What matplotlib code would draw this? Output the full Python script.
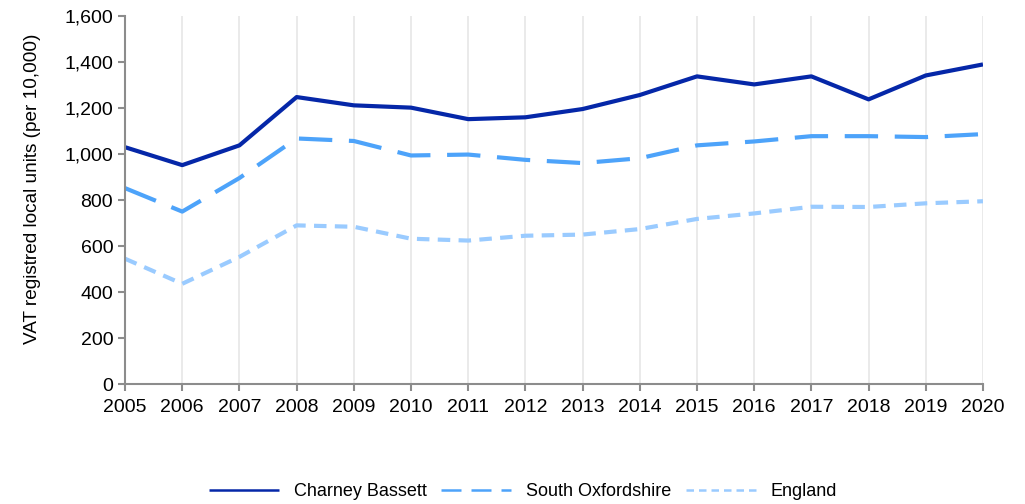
import numpy as np
import matplotlib.pyplot as plt
from matplotlib.ticker import FuncFormatter

# VAT registered local units per 10,000, 2005-2020
years = list(range(2005, 2021))
charney_bassett = [1030, 952, 1038, 1248, 1212, 1202, 1152, 1160, 1196, 1257, 1338, 1303, 1338, 1238, 1342, 1390]
south_oxfordshire = [852, 750, 896, 1068, 1057, 994, 998, 975, 961, 982, 1038, 1055, 1078, 1078, 1074, 1087]
england = [545, 436, 553, 690, 684, 632, 624, 645, 650, 674, 718, 742, 771, 770, 786, 795]

series_names = ["Charney Bassett", "South Oxfordshire", "England"]

plt.rcParams['font.family'] = ['Liberation Sans', 'DejaVu Sans']

fig = plt.figure(figsize=(10.25, 5.04), dpi=100)
ax = fig.add_axes([0.122, 0.238, 0.837, 0.730])

ax.plot(years, charney_bassett, color='#0527a8', lw=3, solid_capstyle='butt',
        label=series_names[0])
ax.plot(years, south_oxfordshire, color='#4da3fa', lw=3, dashes=(8, 4),
        label=series_names[1])
ax.plot(years, england, color='#9acbff', lw=3, dashes=(3, 2),
        label=series_names[2])

ax.set_xlim(2005, 2020)
ax.set_ylim(0, 1600)
ax.set_xticks(years)
ax.set_yticks(np.arange(0, 1601, 200))
ax.yaxis.set_major_formatter(FuncFormatter(lambda v, p: f"{int(v):,}"))
ax.grid(axis='x', color='#e6e6e6', lw=1.2)
ax.set_axisbelow(True)

for side in ['top', 'right']:
    ax.spines[side].set_visible(False)
for side in ['left', 'bottom']:
    ax.spines[side].set_color('#8c8c8c')
    ax.spines[side].set_linewidth(1.5)
ax.tick_params(colors='#8c8c8c', width=1.5, length=5, labelsize=14,
               labelcolor='black')
ax.tick_params(axis='x', pad=6)

ax.set_ylabel("VAT registred local units (per 10,000)", fontsize=13.7, labelpad=17)
ax.yaxis.label.set_y(0.53)

# legend handles drawn a bit thinner than the plotted lines
leg = fig.legend(loc='center', bbox_to_anchor=(0.51, 0.025), ncol=3,
                 frameon=False, fontsize=13, handlelength=3.9, columnspacing=0.8,
                 handletextpad=0.8)
for line in leg.get_lines():
    line.set_linewidth(1.8)

fig.savefig("out.png", dpi=100)
